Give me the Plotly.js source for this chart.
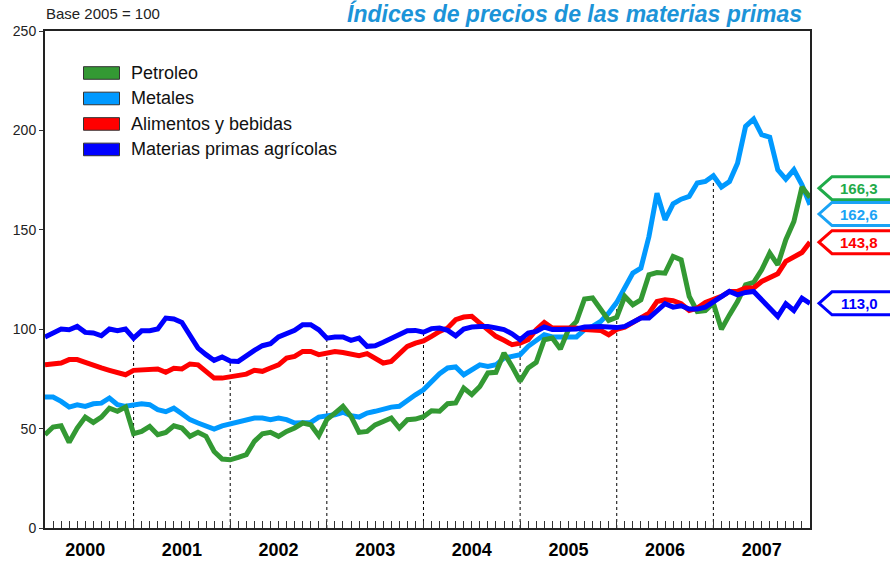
<!DOCTYPE html>
<html>
<head>
<meta charset="utf-8">
<script src="https://cdn.plot.ly/plotly-3.0.1.min.js"></script>
<style>
  html, body { margin: 0; padding: 0; background: #fff; }
  #chart { width: 890px; height: 561px; }
</style>
</head>
<body>
<div id="chart"></div>
<script>
// Datos mensuales 2000-2007, base 2005 = 100
const anios = ['2000', '2001', '2002', '2003', '2004', '2005', '2006', '2007'];

const petroleo = [
  46.9, 50.8, 51.4, 43.1, 50.3, 55.8, 53.1, 55.8, 60.3, 58.7, 60.8, 47.4,
  48.6, 51.1, 46.9, 48.1, 51.4, 50.3, 46.1, 48.1, 46.1, 38.5, 34.7, 34.3,
  35.5, 36.9, 43.6, 47.4, 48.1, 46.1, 48.6, 50.3, 52.8, 51.9, 46.4, 54.5,
  57.8, 61.2, 56.1, 48.1, 48.6, 51.9, 53.6, 55.3, 50.3, 54.5, 54.8, 56.0,
  59.0, 58.7, 62.5, 62.9, 70.4, 67.1, 71.2, 78.0, 78.3, 88.0, 81.3, 73.8,
  80.5, 83.3, 94.7, 95.6, 90.0, 99.8, 103.9, 115.2, 115.7, 109.8, 104.4, 106.0,
  116.5, 112.3, 114.8, 127.4, 128.5, 128.2, 136.6, 134.9, 116.5, 108.9, 109.4, 113.1,
  100.0, 107.2, 113.9, 122.3, 123.5, 129.9, 138.3, 132.4, 145.0, 154.2, 171.5, 166.3
];

const metales = [
  65.9, 65.9, 63.7, 60.8, 62.0, 61.2, 62.5, 62.8, 65.4, 62.0, 61.2, 62.0,
  62.5, 62.0, 59.5, 58.5, 60.3, 57.5, 54.5, 52.8, 51.1, 49.8, 51.4, 52.5,
  53.6, 54.1, 55.3, 55.3, 54.5, 55.3, 54.5, 52.8, 53.1, 53.1, 55.8, 56.1,
  57.0, 58.2, 56.5, 55.8, 57.8, 58.7, 59.8, 60.8, 61.2, 64.5, 67.0, 69.5,
  74.0, 77.6, 80.5, 81.0, 77.1, 79.6, 82.1, 81.3, 82.1, 85.5, 86.3, 87.2,
  91.4, 94.7, 97.2, 96.1, 96.1, 95.6, 96.1, 99.8, 101.4, 103.9, 108.1, 113.5,
  121.0, 128.2, 130.7, 146.6, 168.4, 155.0, 163.1, 165.4, 166.8, 173.5, 174.3, 177.2,
  171.5, 174.3, 183.5, 202.0, 205.7, 197.8, 196.6, 180.2, 175.5, 180.2, 172.6, 162.6
];

const alimentos = [
  82.1, 82.6, 83.0, 84.7, 84.7, 83.3, 81.6, 80.5, 79.3, 78.3, 77.1, 79.3,
  79.6, 79.6, 80.0, 78.3, 80.3, 80.0, 82.5, 82.1, 78.8, 75.4, 75.4, 76.0,
  77.1, 77.4, 79.3, 78.8, 80.5, 82.1, 85.5, 86.3, 88.8, 88.8, 87.2, 88.0,
  88.8, 88.3, 87.2, 86.7, 87.7, 85.5, 83.0, 83.8, 87.7, 91.4, 93.0, 94.1,
  96.4, 98.9, 100.6, 104.8, 106.1, 106.5, 103.1, 99.8, 96.4, 94.4, 92.2, 93.0,
  94.7, 99.8, 103.4, 100.6, 100.6, 101.1, 100.6, 99.8, 99.8, 99.4, 97.2, 99.9,
  101.0, 103.4, 106.1, 108.1, 113.9, 114.8, 114.3, 112.8, 109.4, 110.6, 113.4, 115.1,
  116.5, 119.0, 119.0, 120.7, 120.7, 124.0, 126.2, 127.9, 134.1, 136.6, 138.6, 143.8
];

const agricolas = [
  96.1, 98.1, 100.1, 99.7, 101.4, 98.4, 98.1, 96.7, 100.1, 99.2, 100.1, 95.5,
  99.2, 99.2, 100.1, 105.6, 105.1, 103.4, 97.2, 90.5, 87.2, 84.3, 86.0, 84.0,
  83.8, 86.7, 89.3, 91.7, 92.7, 96.1, 97.7, 99.4, 102.3, 102.3, 99.7, 95.5,
  96.1, 96.1, 94.4, 95.5, 91.4, 91.7, 93.4, 95.5, 97.7, 99.2, 99.4, 98.5,
  100.3, 100.6, 99.4, 96.7, 100.1, 101.1, 101.4, 101.4, 100.6, 99.8, 97.7, 94.7,
  98.1, 98.9, 101.1, 99.8, 99.8, 100.1, 100.1, 101.1, 101.4, 101.4, 101.1, 100.8,
  101.4, 103.4, 105.6, 105.6, 109.4, 112.8, 111.1, 111.8, 110.1, 110.1, 111.1, 113.9,
  116.5, 119.0, 117.3, 118.5, 119.0, 114.8, 110.6, 106.4, 112.8, 109.4, 115.6, 113.0
];

const nombres = ['Petroleo', 'Metales', 'Alimentos y bebidas', 'Materias primas agrícolas'];
const series = [petroleo, metales, alimentos, agricolas];
const colores = ['#339933', '#0099ff', '#ff0000', '#0000ff'];
const coloresEtiqueta = ['#1fab4a', '#1aa3f5', '#ff0000', '#0000ff'];

const fuente = 'Liberation Sans, Arial, sans-serif';
const meses = petroleo.map((_, i) => i + 1);

// conversion de pixeles a coordenadas de papel (area de trazado 45..810 x 31..528)
const L = 45, R = 810, T = 31, B = 528.3;
const px = x => (x - L) / (R - L);
const py = y => (B - y) / (B - T);

// Orden de dibujo: metales, petroleo, alimentos, agricolas
const orden = [1, 0, 2, 3];
const traces = orden.map(k => ({
  x: meses,
  y: series[k],
  type: 'scatter',
  mode: 'lines',
  name: nombres[k],
  line: {color: colores[k], width: 5},
  hoverinfo: 'skip'
}));

const shapes = [];
const annotations = [];

// Lineas punteadas al cambio de año, hasta la serie mas alta
for (let k = 1; k < anios.length; k++) {
  const idx = k * 12 - 1;
  const tope = Math.max(...series.map(s => s[idx]));
  shapes.push({
    type: 'line', xref: 'x', yref: 'y', layer: 'below',
    x0: meses[idx], x1: meses[idx], y0: 0, y1: tope,
    line: {color: '#000', width: 1, dash: 'dot'}
  });
}

// Leyenda dibujada a mano (cajas rectangulares)
nombres.forEach((n, k) => {
  const cy = 73 + k * 25.5;
  shapes.push({
    type: 'rect', xref: 'paper', yref: 'paper',
    x0: px(83.5), x1: px(119.5), y0: py(cy + 6.3), y1: py(cy - 6.3),
    fillcolor: colores[k], line: {color: '#333', width: 1}
  });
  annotations.push({
    xref: 'paper', yref: 'paper', x: px(129), y: py(cy),
    xanchor: 'left', yanchor: 'middle', showarrow: false,
    text: n, font: {family: fuente, size: 18, color: '#111'}
  });
});

// Etiquetas del ultimo valor, separadas para que no se solapen
const ultimos = series.map(s => s[s.length - 1]);
const pos = ultimos.map((v, k) => ({k, v, y: v}));
pos.sort((a, b) => b.v - a.v);
const gap = 13;
for (let iter = 0; iter < 10; iter++) {
  for (let i = 0; i < pos.length - 1; i++) {
    const d = pos[i].y - pos[i + 1].y;
    if (d < gap) {
      const m = (pos[i].y + pos[i + 1].y) / 2;
      pos[i].y = m + gap / 2;
      pos[i + 1].y = m - gap / 2;
    }
  }
}
pos.forEach(p => {
  const c = coloresEtiqueta[p.k];
  shapes.push({
    type: 'path', xref: 'paper', yref: 'y',
    xsizemode: 'pixel', ysizemode: 'pixel', xanchor: 1, yanchor: p.y,
    path: 'M 9 0 L 22 11.5 L 95 11.5 L 95 -11.5 L 22 -11.5 Z',
    fillcolor: '#fff', line: {color: c, width: 3}
  });
  annotations.push({
    xref: 'paper', yref: 'y', x: 1, y: p.y, xshift: 49,
    xanchor: 'center', yanchor: 'middle', showarrow: false,
    text: '<b>' + p.v.toFixed(1).replace('.', ',') + '</b>',
    font: {family: fuente, size: 15, color: c}
  });
});

annotations.push({
  xref: 'paper', yref: 'paper', x: px(804), y: py(13),
  xanchor: 'right', yanchor: 'middle', showarrow: false,
  text: '<b><i>Índices de precios de las materias primas</i></b>',
  font: {family: fuente, size: 23, color: '#1c94d8'}
});
annotations.push({
  xref: 'paper', yref: 'paper', x: px(44), y: py(13.5),
  xanchor: 'left', yanchor: 'middle', showarrow: false,
  text: 'Base 2005 = 100',
  font: {family: fuente, size: 15, color: '#222'}
});

const layout = {
  width: 890, height: 561,
  margin: {l: 45, r: 80, t: 31, b: 33, pad: 0},
  paper_bgcolor: '#fff', plot_bgcolor: '#fff',
  showlegend: false,
  font: {family: fuente, color: '#222'},
  xaxis: {
    range: [1, 96],
    tickmode: 'array',
    tickvals: anios.map((_, i) => i * 12 + 6),
    ticktext: anios,
    ticks: 'inside', ticklen: 7, tickwidth: 1, tickcolor: '#333',
    minor: {tickvals: meses, ticks: 'inside', ticklen: 7, tickwidth: 1, tickcolor: '#333'},
    tickfont: {family: fuente, size: 18, color: '#000', weight: 'bold'},
    ticklabelstandoff: 4,
    showgrid: false, zeroline: false,
    showline: true, linecolor: '#222', linewidth: 2, mirror: true,
    fixedrange: true
  },
  yaxis: {
    range: [0, 250],
    tickvals: [0, 50, 100, 150, 200, 250],
    ticks: 'outside', ticklen: 4, tickwidth: 1, tickcolor: '#333',
    tickfont: {family: fuente, size: 14, color: '#222'},
    showgrid: false, zeroline: false,
    showline: true, linecolor: '#222', linewidth: 2, mirror: true,
    fixedrange: true
  },
  shapes: shapes,
  annotations: annotations
};

Plotly.newPlot('chart', traces, layout, {displayModeBar: false, staticPlot: true});
</script>
</body>
</html>
